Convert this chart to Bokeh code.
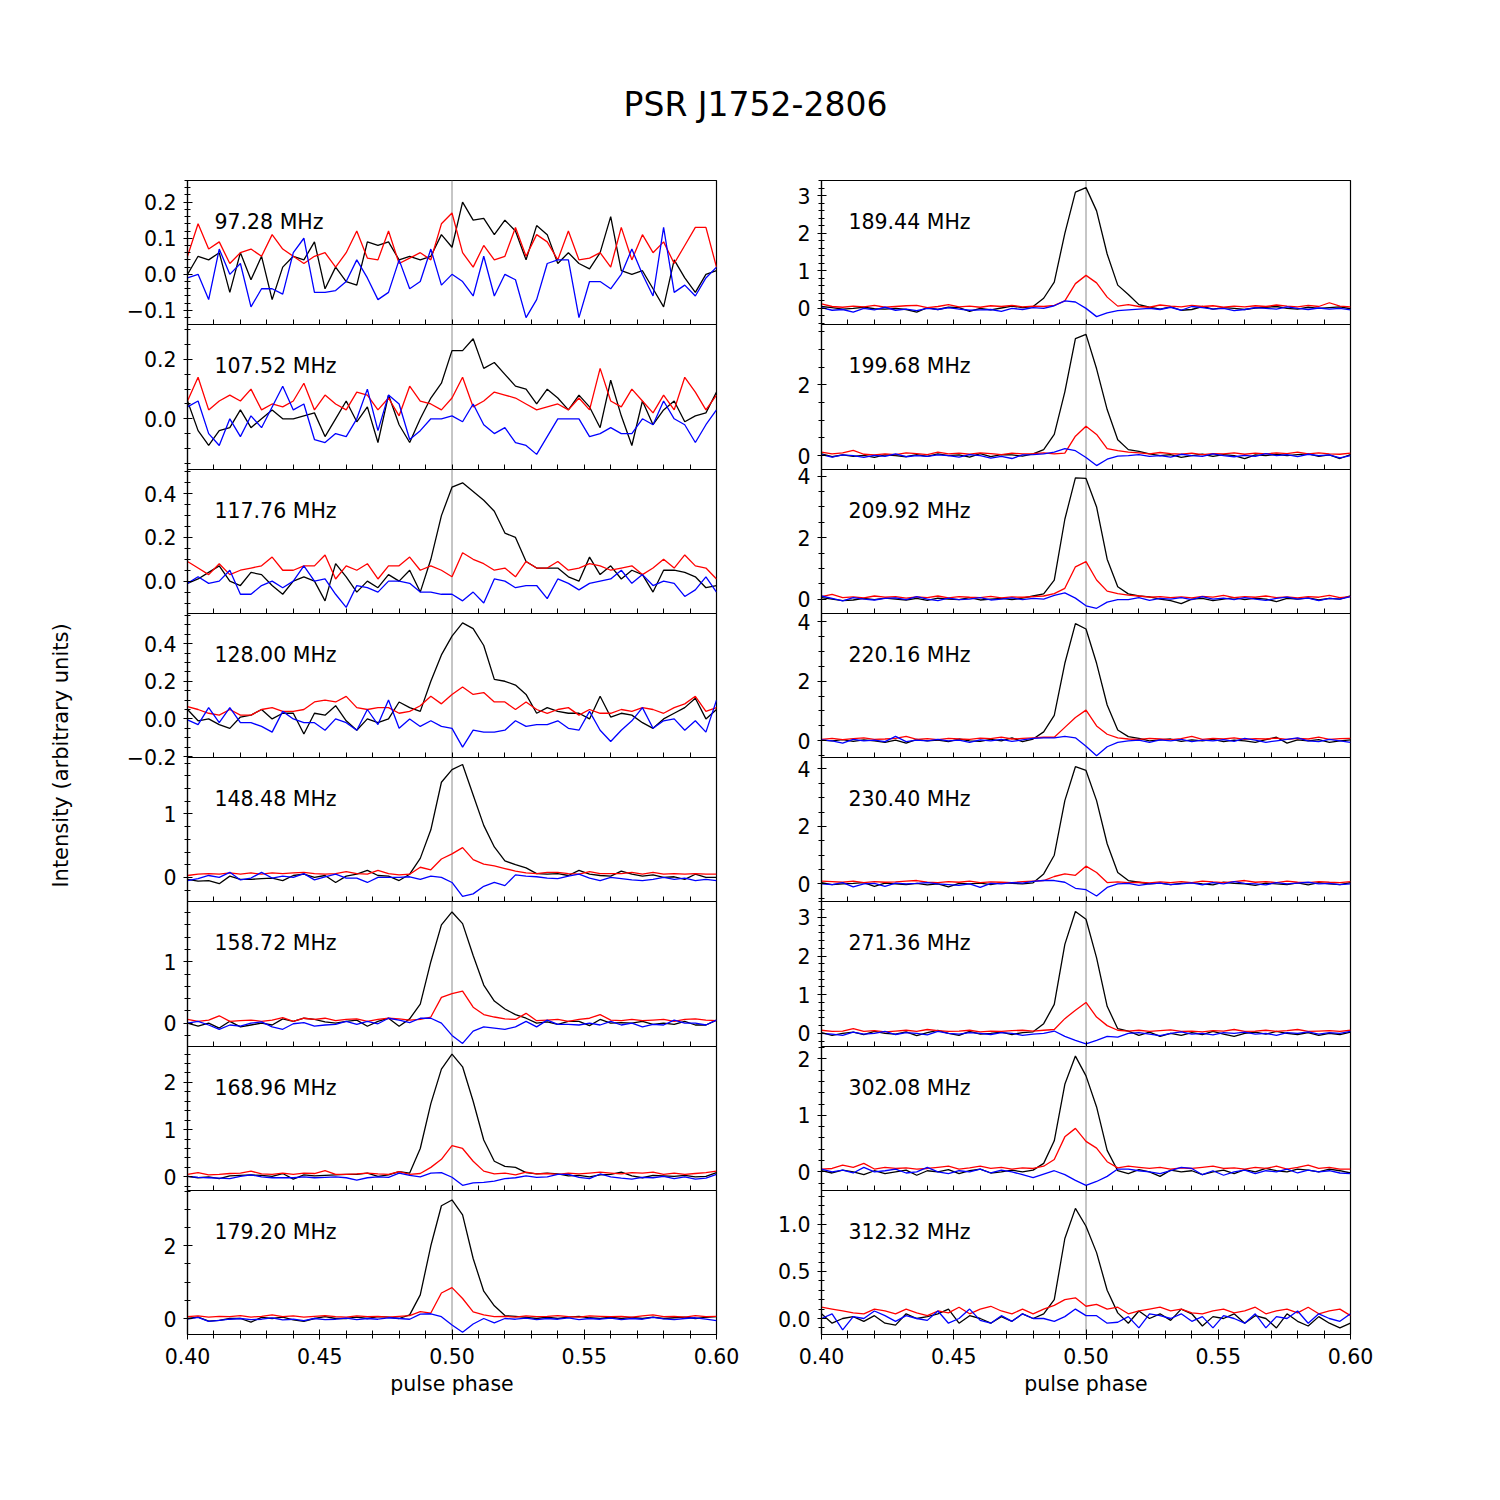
import math
import numpy as np
from bokeh.plotting import figure
from bokeh.models import (Range1d, Span, Label, SingleIntervalTicker, FixedTicker,
                          CustomJSTickFormatter, PrintfTickFormatter)
from bokeh.layouts import column, row
from bokeh.embed import file_html
from bokeh.resources import INLINE

# ---------------- data ----------------
phase = np.round(np.linspace(0.40, 0.60, 51), 3)

x_major = [0.40, 0.45, 0.50, 0.55, 0.60]
x_minor = [0.41, 0.42, 0.43, 0.44, 0.46, 0.47, 0.48, 0.49, 0.51, 0.52, 0.53, 0.54,
           0.56, 0.57, 0.58, 0.59]

freq_left = ["97.28 MHz", "107.52 MHz", "117.76 MHz", "128.00 MHz",
             "148.48 MHz", "158.72 MHz", "168.96 MHz", "179.20 MHz"]
freq_right = ["189.44 MHz", "199.68 MHz", "209.92 MHz", "220.16 MHz",
              "230.40 MHz", "271.36 MHz", "302.08 MHz", "312.32 MHz"]

# total intensity (black), linear (red), circular (blue)
i_09728 = [0.0, 0.05, 0.04, 0.06, -0.05, 0.06, -0.015, 0.05, -0.07, 0.02, 0.05, 0.04, 0.09, -0.04, 0.02, -0.02, -0.03, 0.09, 0.08, 0.09, 0.04, 0.05, 0.04, 0.05, 0.11, 0.075, 0.2, 0.15, 0.155, 0.11, 0.15, 0.12, 0.04, 0.135, 0.11, 0.03, 0.06, 0.03, 0.015, 0.06, 0.16, 0.01, 0.0, 0.01, -0.04, -0.09, 0.04, -0.01, -0.05, 0.0, 0.01]
l_09728 = [0.05, 0.14, 0.07, 0.09, 0.03, 0.06, 0.07, 0.05, 0.11, 0.07, 0.05, 0.03, 0.05, 0.06, 0.02, 0.06, 0.12, 0.045, 0.04, 0.12, 0.03, 0.045, 0.06, 0.04, 0.14, 0.17, 0.06, 0.02, 0.08, 0.04, 0.05, 0.13, 0.05, 0.11, 0.09, 0.04, 0.12, 0.04, 0.045, 0.06, 0.02, 0.13, 0.04, 0.11, 0.06, 0.09, 0.03, 0.08, 0.13, 0.13, 0.02]
v_09728 = [-0.01, 0.0, -0.07, 0.07, 0.0, 0.03, -0.09, -0.04, -0.04, -0.055, 0.06, 0.1, -0.05, -0.05, -0.045, -0.02, 0.04, -0.01, -0.07, -0.05, 0.04, -0.04, -0.02, 0.07, -0.03, 0.0, -0.02, -0.06, 0.05, -0.06, 0.0, -0.015, -0.12, -0.07, 0.03, 0.04, 0.04, -0.12, -0.02, -0.02, -0.04, 0.0, 0.07, 0.0, -0.06, 0.13, -0.05, -0.03, -0.06, -0.01, 0.02]

i_10752 = [0.06, -0.04, -0.09, -0.04, -0.03, 0.03, -0.03, 0.0, 0.03, 0.0, 0.0, 0.01, 0.02, -0.06, 0.0, 0.06, -0.01, 0.04, -0.08, 0.08, -0.02, -0.08, 0.0, 0.07, 0.12, 0.23, 0.23, 0.27, 0.17, 0.19, 0.15, 0.11, 0.10, 0.05, 0.10, 0.07, 0.03, 0.08, 0.04, -0.03, 0.13, 0.01, -0.09, 0.06, -0.02, 0.03, 0.06, -0.01, 0.01, 0.02, 0.09]
l_10752 = [0.06, 0.14, 0.03, 0.06, 0.08, 0.06, 0.10, 0.03, 0.05, 0.04, 0.06, 0.12, 0.03, 0.08, 0.05, 0.03, 0.09, 0.08, 0.03, 0.07, 0.01, 0.11, 0.06, 0.05, 0.03, 0.07, 0.14, 0.04, 0.06, 0.09, 0.08, 0.07, 0.05, 0.03, 0.04, 0.05, 0.03, 0.07, 0.03, 0.17, 0.06, 0.04, 0.10, 0.06, 0.02, 0.08, 0.03, 0.14, 0.09, 0.03, 0.08]
v_10752 = [0.04, 0.06, -0.05, -0.09, 0.0, -0.06, 0.01, -0.03, 0.04, 0.11, 0.03, 0.05, -0.07, -0.08, -0.05, -0.06, 0.0, 0.10, -0.04, 0.08, 0.05, -0.07, -0.04, 0.0, 0.0, 0.01, -0.01, 0.05, -0.02, -0.05, -0.03, -0.08, -0.09, -0.12, -0.06, 0.0, 0.0, 0.0, -0.06, -0.05, -0.03, -0.05, -0.05, 0.0, -0.02, 0.06, 0.0, -0.02, -0.08, -0.02, 0.03]

i_11776 = [-0.01, 0.01, 0.04, 0.07, 0.0, -0.02, 0.04, 0.03, -0.02, -0.06, 0.0, 0.02, 0.0, -0.09, 0.08, 0.02, -0.05, 0.0, -0.03, 0.03, 0.0, 0.05, -0.05, 0.10, 0.30, 0.43, 0.45, 0.41, 0.37, 0.32, 0.22, 0.20, 0.09, 0.06, 0.06, 0.06, 0.02, 0.0, 0.11, 0.03, 0.07, 0.01, 0.05, 0.03, -0.05, 0.05, 0.05, 0.04, 0.02, -0.03, -0.02]
l_11776 = [0.09, 0.06, 0.03, 0.08, 0.03, 0.05, 0.06, 0.07, 0.11, 0.05, 0.05, 0.07, 0.07, 0.12, 0.01, 0.07, 0.05, 0.08, 0.01, 0.07, 0.07, 0.11, 0.05, 0.07, 0.05, 0.02, 0.13, 0.10, 0.08, 0.05, 0.06, 0.02, 0.09, 0.06, 0.06, 0.09, 0.05, 0.06, 0.08, 0.07, 0.05, 0.06, 0.07, 0.03, 0.06, 0.10, 0.06, 0.12, 0.07, 0.06, 0.01]
v_11776 = [-0.01, 0.02, -0.01, 0.0, 0.05, -0.06, -0.06, -0.02, 0.0, -0.03, 0.0, 0.07, 0.0, 0.01, -0.06, -0.12, -0.02, -0.03, -0.05, 0.0, 0.0, -0.01, -0.05, -0.05, -0.06, -0.06, -0.09, -0.05, -0.10, 0.01, 0.0, -0.03, -0.02, -0.02, -0.08, 0.01, -0.01, -0.04, -0.01, 0.0, 0.01, 0.05, -0.01, 0.03, -0.02, 0.0, -0.01, -0.07, -0.04, 0.02, -0.05]

i_12800 = [0.05, -0.01, 0.0, -0.03, -0.05, 0.01, 0.02, 0.05, 0.0, 0.03, 0.03, -0.08, 0.03, 0.02, 0.07, -0.01, -0.06, 0.0, -0.02, 0.0, 0.09, 0.06, 0.04, 0.20, 0.34, 0.44, 0.51, 0.48, 0.39, 0.21, 0.20, 0.18, 0.13, 0.03, 0.06, 0.04, 0.03, 0.03, 0.0, 0.12, 0.01, 0.03, 0.02, -0.02, -0.05, 0.0, 0.03, 0.06, 0.11, 0.0, 0.05]
l_12800 = [0.065, 0.05, 0.03, 0.02, 0.05, 0.02, 0.02, 0.05, 0.06, 0.04, 0.04, 0.05, 0.09, 0.10, 0.09, 0.12, 0.06, 0.05, 0.06, 0.06, 0.03, 0.04, 0.07, 0.12, 0.08, 0.13, 0.17, 0.13, 0.14, 0.09, 0.09, 0.05, 0.09, 0.05, 0.03, 0.05, 0.06, 0.02, 0.05, 0.03, 0.03, 0.05, 0.04, 0.06, 0.05, 0.03, 0.06, 0.08, 0.12, 0.04, 0.06]
v_12800 = [-0.005, -0.03, 0.06, -0.02, 0.06, -0.02, -0.02, -0.04, -0.07, 0.04, 0.0, -0.02, -0.02, -0.06, 0.0, -0.02, -0.06, 0.05, -0.03, 0.10, -0.05, 0.0, -0.04, -0.01, -0.04, -0.05, -0.15, -0.06, -0.07, -0.07, -0.06, -0.01, -0.04, -0.03, -0.03, -0.01, -0.05, -0.06, 0.04, -0.06, -0.12, -0.06, -0.01, 0.06, -0.05, -0.01, 0.0, -0.06, -0.01, -0.07, 0.10]

i_14848 = [-0.03, -0.06, -0.05, -0.10, 0.02, -0.03, -0.03, -0.02, -0.01, -0.05, 0.03, 0.05, 0.0, 0.03, -0.08, 0.02, 0.05, 0.11, 0.03, 0.02, -0.05, 0.05, 0.30, 0.75, 1.50, 1.70, 1.78, 1.30, 0.82, 0.48, 0.26, 0.20, 0.15, 0.06, 0.05, 0.06, 0.03, 0.11, 0.05, 0.03, 0.02, 0.10, 0.05, 0.02, 0.04, 0.0, 0.01, -0.03, 0.05, 0.0, 0.0]
l_14848 = [0.03, 0.05, 0.06, 0.05, 0.07, 0.05, 0.07, 0.05, 0.07, 0.06, 0.07, 0.08, 0.06, 0.05, 0.06, 0.09, 0.06, 0.05, 0.11, 0.06, 0.04, 0.05, 0.16, 0.12, 0.29, 0.37, 0.47, 0.28, 0.21, 0.18, 0.14, 0.10, 0.07, 0.06, 0.08, 0.08, 0.06, 0.05, 0.09, 0.06, 0.06, 0.06, 0.08, 0.05, 0.08, 0.05, 0.06, 0.05, 0.06, 0.05, 0.05]
v_14848 = [-0.05, -0.02, 0.03, 0.0, 0.08, -0.04, -0.01, 0.08, -0.01, 0.02, 0.0, 0.06, -0.04, 0.01, 0.05, -0.01, -0.01, -0.08, 0.0, 0.0, 0.0, 0.01, -0.03, 0.02, 0.0, -0.08, -0.30, -0.26, -0.14, -0.08, -0.13, 0.04, 0.02, 0.01, -0.01, -0.02, 0.02, 0.05, -0.01, -0.05, 0.0, -0.02, -0.04, -0.05, -0.03, 0.0, -0.03, -0.01, -0.05, -0.03, -0.05]

i_15872 = [0.0, -0.05, 0.0, -0.08, 0.03, -0.06, -0.03, 0.0, -0.03, 0.07, 0.03, 0.08, 0.06, 0.02, 0.0, 0.03, 0.05, -0.05, 0.03, 0.08, -0.05, 0.07, 0.31, 1.00, 1.60, 1.81, 1.62, 1.10, 0.62, 0.36, 0.23, 0.14, 0.08, 0.0, 0.02, -0.02, 0.03, 0.03, -0.04, 0.06, 0.0, 0.01, 0.0, 0.03, -0.02, 0.0, -0.02, 0.03, -0.03, -0.03, 0.05]
l_15872 = [0.06, 0.03, 0.05, 0.12, 0.03, 0.04, 0.05, 0.03, 0.05, 0.09, 0.03, 0.08, 0.06, 0.08, 0.04, 0.06, 0.07, 0.03, 0.06, 0.08, 0.07, 0.05, 0.06, 0.10, 0.42, 0.48, 0.52, 0.26, 0.14, 0.10, 0.07, 0.06, 0.16, 0.04, 0.05, 0.06, 0.03, 0.06, 0.08, 0.14, 0.05, 0.04, 0.06, 0.04, 0.05, 0.06, 0.03, 0.06, 0.07, 0.05, 0.04]
v_15872 = [0.0, 0.03, -0.03, -0.10, -0.03, -0.05, 0.0, 0.02, -0.06, -0.10, -0.01, 0.01, -0.05, -0.03, -0.02, 0.03, -0.02, 0.03, -0.01, 0.08, 0.05, 0.01, 0.08, 0.08, 0.0, -0.20, -0.33, -0.13, -0.06, -0.08, -0.10, -0.06, 0.03, -0.06, 0.05, -0.02, -0.02, -0.03, 0.0, -0.03, 0.03, -0.03, 0.0, -0.06, -0.02, -0.03, 0.05, 0.0, 0.0, -0.03, 0.05]

i_16896 = [0.01, -0.02, 0.0, -0.04, 0.02, 0.03, 0.04, 0.03, 0.01, 0.07, -0.05, 0.04, 0.02, 0.03, 0.04, 0.05, 0.05, 0.08, 0.01, 0.04, 0.11, 0.08, 0.60, 1.55, 2.28, 2.60, 2.33, 1.60, 0.78, 0.33, 0.22, 0.20, 0.09, 0.06, 0.08, 0.06, 0.02, 0.03, 0.0, 0.04, 0.05, 0.10, 0.02, -0.02, 0.03, 0.02, 0.01, 0.03, 0.0, 0.01, 0.09]
l_16896 = [0.05, 0.09, 0.04, 0.05, 0.07, 0.08, 0.12, 0.06, 0.05, 0.08, 0.05, 0.08, 0.07, 0.13, 0.05, 0.05, 0.06, 0.08, 0.06, 0.05, 0.11, 0.05, 0.07, 0.20, 0.37, 0.66, 0.60, 0.33, 0.12, 0.06, 0.08, 0.04, 0.10, 0.06, 0.07, 0.05, 0.08, 0.06, 0.08, 0.10, 0.08, 0.06, 0.09, 0.08, 0.10, 0.05, 0.08, 0.05, 0.07, 0.09, 0.12]
v_16896 = [0.01, -0.01, -0.02, -0.03, -0.04, 0.01, 0.04, 0.0, -0.02, -0.02, -0.02, 0.0, -0.02, -0.01, 0.0, -0.02, -0.07, -0.02, 0.0, -0.01, 0.08, 0.03, 0.0, 0.08, 0.09, -0.01, -0.18, -0.13, -0.12, -0.09, -0.04, -0.02, 0.02, -0.01, 0.0, 0.05, 0.05, -0.01, -0.04, 0.06, 0.0, -0.03, -0.05, -0.01, -0.02, 0.01, -0.04, 0.0, -0.05, -0.03, 0.05]

i_17920 = [0.0, 0.04, -0.07, -0.05, 0.0, 0.0, -0.10, 0.03, 0.0, 0.04, -0.04, -0.08, 0.0, 0.05, 0.0, 0.0, 0.04, 0.0, 0.05, 0.04, 0.0, 0.10, 0.65, 2.00, 3.10, 3.26, 2.85, 1.65, 0.75, 0.35, 0.08, 0.06, 0.03, 0.0, 0.04, 0.0, 0.04, 0.06, 0.02, 0.0, 0.04, 0.0, 0.03, 0.0, 0.04, 0.0, 0.02, 0.04, 0.0, 0.03, 0.05]
l_17920 = [0.05, 0.07, 0.04, 0.06, 0.05, 0.08, 0.04, 0.06, 0.10, 0.05, 0.07, 0.04, 0.06, 0.08, 0.05, 0.04, 0.07, 0.05, 0.06, 0.04, 0.06, 0.08, 0.19, 0.15, 0.70, 0.85, 0.55, 0.18, 0.10, 0.05, 0.06, 0.04, 0.07, 0.05, 0.06, 0.08, 0.05, 0.04, 0.07, 0.06, 0.05, 0.06, 0.04, 0.07, 0.10, 0.05, 0.06, 0.04, 0.08, 0.05, 0.06]
v_17920 = [-0.02, 0.03, -0.08, -0.05, -0.02, 0.0, -0.03, -0.02, 0.02, -0.04, -0.02, -0.06, 0.0, -0.03, -0.02, 0.01, -0.03, 0.0, -0.02, 0.02, 0.0, -0.02, 0.12, 0.13, 0.05, -0.18, -0.38, -0.15, 0.0, -0.12, 0.0, -0.02, 0.01, -0.03, 0.0, -0.02, 0.02, -0.03, 0.0, -0.02, 0.01, -0.03, 0.0, -0.02, 0.03, -0.01, -0.03, 0.0, 0.02, -0.02, -0.06]

i_18944 = [0.05, 0.02, -0.02, 0.0, 0.03, -0.01, -0.02, 0.0, -0.03, -0.10, 0.02, -0.03, 0.03, 0.02, -0.08, 0.0, -0.04, 0.01, 0.06, 0.02, 0.05, 0.27, 0.70, 2.00, 3.10, 3.22, 2.60, 1.45, 0.62, 0.37, 0.10, 0.03, -0.02, 0.04, -0.05, -0.03, 0.05, -0.02, 0.02, 0.0, -0.03, 0.01, 0.03, 0.05, 0.0, -0.02, 0.03, 0.0, 0.02, 0.04, -0.01]
l_18944 = [0.12, 0.05, 0.03, 0.06, 0.04, 0.08, 0.03, 0.05, 0.07, 0.08, 0.02, 0.05, 0.10, 0.04, 0.06, 0.03, 0.07, 0.05, 0.08, 0.04, 0.06, 0.05, 0.08, 0.20, 0.66, 0.88, 0.68, 0.30, 0.06, 0.10, 0.05, 0.03, 0.09, 0.06, 0.04, 0.08, 0.05, 0.07, 0.03, 0.06, 0.04, 0.07, 0.05, 0.09, 0.06, 0.04, 0.08, 0.05, 0.15, 0.06, 0.04]
v_18944 = [0.02, -0.05, -0.03, -0.10, 0.0, -0.04, 0.03, -0.05, -0.02, -0.06, 0.0, -0.03, 0.02, -0.02, -0.05, -0.04, -0.03, -0.08, 0.0, -0.03, 0.02, 0.0, 0.07, 0.20, 0.17, 0.0, -0.22, -0.12, -0.06, -0.04, -0.02, 0.0, -0.03, 0.03, -0.05, 0.05, 0.02, -0.02, 0.0, -0.06, -0.03, 0.02, 0.0, -0.02, 0.04, 0.0, -0.03, 0.01, -0.02, 0.0, -0.04]

i_19968 = [0.05, -0.03, 0.02, -0.02, 0.01, -0.05, 0.02, 0.0, -0.03, 0.03, -0.02, 0.05, 0.0, 0.02, -0.04, 0.06, -0.03, 0.03, 0.02, -0.01, 0.05, 0.17, 0.60, 1.80, 3.30, 3.42, 2.45, 1.30, 0.45, 0.17, 0.12, 0.05, 0.0, 0.03, -0.05, 0.0, 0.04, -0.02, 0.03, 0.0, -0.08, 0.02, 0.0, 0.04, 0.0, 0.03, 0.05, -0.02, 0.02, -0.08, 0.03]
l_19968 = [0.10, 0.05, 0.08, 0.15, 0.04, 0.02, 0.05, 0.03, 0.08, 0.06, 0.03, 0.10, 0.05, 0.07, 0.04, 0.08, 0.06, 0.03, 0.07, 0.05, 0.06, 0.08, 0.05, 0.07, 0.55, 0.83, 0.60, 0.20, 0.14, 0.10, 0.08, 0.05, 0.09, 0.06, 0.04, 0.07, 0.03, 0.06, 0.05, 0.08, 0.04, 0.07, 0.05, 0.08, 0.06, 0.10, 0.05, 0.08, 0.05, 0.04, 0.07]
v_19968 = [0.03, -0.04, 0.02, 0.0, -0.05, 0.01, -0.02, 0.05, -0.03, 0.0, -0.02, 0.02, 0.0, -0.04, 0.03, 0.0, -0.07, -0.02, -0.08, 0.02, 0.03, 0.05, 0.10, 0.20, 0.14, -0.05, -0.28, -0.10, -0.01, 0.0, 0.03, -0.02, 0.0, -0.04, 0.04, 0.0, -0.02, 0.05, 0.0, -0.03, 0.01, -0.02, 0.06, 0.0, 0.03, -0.03, 0.04, 0.0, 0.02, -0.06, 0.0]

i_20992 = [0.05, 0.0, -0.05, -0.03, 0.02, -0.02, 0.03, 0.0, -0.03, 0.02, -0.04, 0.03, 0.0, -0.02, 0.05, -0.03, 0.0, 0.02, -0.02, 0.03, 0.10, 0.17, 0.62, 2.60, 3.95, 3.93, 3.00, 1.30, 0.40, 0.17, 0.10, 0.07, 0.0, -0.05, -0.15, 0.0, 0.02, -0.05, 0.0, 0.05, -0.02, 0.03, 0.0, -0.08, 0.02, 0.0, 0.04, -0.03, 0.02, 0.0, 0.10]
l_20992 = [0.08, 0.15, 0.05, 0.07, 0.04, 0.10, 0.06, 0.08, 0.03, 0.07, 0.05, 0.10, 0.04, 0.08, 0.06, 0.05, 0.09, 0.04, 0.07, 0.06, 0.08, 0.10, 0.18, 0.35, 1.05, 1.22, 0.62, 0.26, 0.18, 0.13, 0.10, 0.06, 0.08, 0.05, 0.07, 0.04, 0.09, 0.06, 0.12, 0.05, 0.08, 0.06, 0.10, 0.05, 0.07, 0.04, 0.08, 0.06, 0.12, 0.05, 0.08]
v_20992 = [0.10, 0.02, -0.06, 0.05, 0.0, -0.03, 0.02, 0.04, -0.02, 0.08, 0.0, -0.05, 0.03, -0.02, 0.0, 0.05, -0.03, 0.0, 0.04, -0.02, 0.02, 0.0, 0.12, 0.20, 0.03, -0.22, -0.30, -0.10, -0.02, -0.02, 0.05, -0.04, 0.02, 0.0, 0.05, -0.02, 0.08, 0.0, 0.03, -0.02, 0.05, 0.0, -0.04, 0.02, 0.06, 0.0, 0.03, -0.05, 0.02, 0.0, 0.08]

i_22016 = [0.02, 0.0, 0.04, -0.02, 0.03, 0.0, -0.05, 0.02, -0.08, 0.05, 0.0, 0.02, -0.03, 0.06, 0.0, -0.02, 0.05, 0.0, 0.10, -0.03, 0.06, 0.30, 0.85, 2.60, 3.93, 3.75, 2.60, 1.20, 0.36, 0.14, 0.08, 0.0, 0.03, 0.06, -0.02, 0.03, 0.0, 0.05, -0.03, 0.02, 0.0, -0.05, 0.04, 0.12, -0.08, 0.03, 0.0, 0.04, -0.05, 0.0, 0.03]
l_22016 = [0.05, 0.08, 0.04, 0.07, 0.10, 0.05, 0.06, 0.08, 0.15, 0.05, 0.07, 0.04, 0.08, 0.06, 0.05, 0.09, 0.07, 0.12, 0.06, 0.08, 0.10, 0.12, 0.12, 0.45, 0.78, 1.03, 0.50, 0.22, 0.10, 0.06, 0.05, 0.08, 0.06, 0.04, 0.07, 0.15, 0.05, 0.08, 0.06, 0.10, 0.05, 0.07, 0.06, 0.09, 0.05, 0.08, 0.06, 0.12, 0.05, 0.07, 0.08]
v_22016 = [0.03, 0.0, -0.08, 0.05, 0.0, 0.02, -0.03, 0.15, -0.03, 0.02, 0.0, 0.05, 0.0, 0.02, -0.05, 0.03, 0.0, 0.05, -0.02, 0.03, 0.08, 0.10, 0.10, 0.15, 0.10, -0.18, -0.50, -0.20, -0.05, 0.0, 0.02, -0.05, 0.03, 0.0, 0.05, -0.03, 0.02, 0.0, 0.04, -0.02, 0.08, 0.02, -0.05, 0.0, 0.05, 0.10, 0.0, -0.03, 0.05, 0.0, -0.05]

i_23040 = [0.05, -0.02, 0.0, 0.02, 0.05, -0.08, 0.03, 0.0, -0.02, 0.02, -0.03, 0.0, -0.10, 0.02, 0.0, 0.03, -0.02, 0.05, 0.02, 0.0, 0.04, 0.35, 1.00, 2.90, 4.08, 3.95, 2.90, 1.40, 0.40, 0.12, 0.06, 0.0, 0.03, -0.02, 0.02, 0.05, 0.0, -0.03, 0.06, 0.02, 0.0, -0.05, 0.03, 0.0, -0.02, 0.04, -0.03, 0.05, 0.0, -0.02, 0.05]
l_23040 = [0.10, 0.08, 0.06, 0.10, 0.05, 0.08, 0.06, 0.07, 0.10, 0.12, 0.06, 0.05, 0.08, 0.06, 0.10, 0.05, 0.07, 0.06, 0.05, 0.08, 0.10, 0.12, 0.26, 0.35, 0.30, 0.62, 0.40, 0.05, 0.07, 0.05, 0.06, 0.04, 0.07, 0.05, 0.08, 0.05, 0.10, 0.07, 0.05, 0.08, 0.12, 0.06, 0.08, 0.05, 0.10, 0.06, 0.05, 0.08, 0.06, 0.05, 0.08]
v_23040 = [0.0, -0.02, 0.05, -0.10, 0.0, 0.02, -0.08, 0.03, 0.0, 0.02, 0.05, 0.0, -0.02, -0.05, 0.0, -0.12, 0.02, 0.0, 0.05, 0.03, 0.09, 0.12, 0.12, 0.06, -0.15, -0.20, -0.42, -0.12, 0.0, 0.02, -0.05, 0.0, 0.03, -0.02, 0.0, 0.04, -0.03, 0.05, 0.0, 0.08, 0.02, 0.0, -0.03, 0.05, 0.0, 0.03, 0.06, 0.0, 0.02, -0.02, 0.0]

i_27136 = [0.02, -0.05, 0.0, 0.03, -0.03, 0.05, 0.0, -0.02, 0.04, -0.06, 0.02, 0.08, 0.0, -0.05, 0.05, -0.02, 0.0, 0.03, -0.03, 0.02, 0.04, 0.25, 0.75, 2.30, 3.15, 2.95, 1.95, 0.70, 0.12, 0.06, -0.05, 0.03, -0.08, 0.0, -0.05, 0.02, -0.03, 0.05, -0.02, -0.08, 0.0, 0.03, -0.02, 0.05, 0.0, -0.03, 0.02, -0.05, 0.0, -0.03, 0.03]
l_27136 = [0.08, 0.05, 0.06, 0.12, 0.05, 0.07, 0.04, 0.06, 0.08, 0.05, 0.10, 0.07, 0.05, 0.06, 0.08, 0.04, 0.06, 0.05, 0.07, 0.08, 0.06, 0.08, 0.10, 0.38, 0.60, 0.80, 0.42, 0.20, 0.08, 0.06, 0.08, 0.05, 0.07, 0.09, 0.05, 0.06, 0.04, 0.07, 0.06, 0.10, 0.05, 0.06, 0.08, 0.05, 0.07, 0.10, 0.05, 0.06, 0.07, 0.05, 0.08]
v_27136 = [0.0, -0.02, -0.05, 0.03, -0.02, 0.0, 0.05, -0.03, 0.02, 0.0, -0.04, 0.05, 0.0, -0.02, 0.02, 0.0, -0.03, 0.02, 0.0, -0.05, -0.02, 0.0, 0.06, -0.08, -0.18, -0.27, -0.18, -0.08, -0.10, 0.0, 0.02, -0.02, -0.06, 0.0, 0.04, -0.02, 0.0, -0.04, 0.02, 0.0, 0.03, -0.02, 0.0, -0.05, 0.02, 0.0, 0.04, -0.02, 0.02, 0.0, 0.05]

i_30208 = [0.02, -0.02, 0.03, 0.0, -0.05, 0.02, -0.03, 0.0, 0.03, -0.06, 0.02, 0.0, 0.04, -0.03, 0.02, 0.05, -0.02, 0.0, 0.03, 0.0, 0.03, 0.15, 0.55, 1.55, 2.05, 1.70, 1.15, 0.38, 0.02, -0.03, 0.04, 0.0, -0.08, 0.03, 0.0, 0.02, -0.05, 0.0, 0.03, -0.03, 0.04, 0.0, 0.06, 0.02, 0.0, 0.05, 0.03, 0.0, 0.05, 0.02, -0.02]
l_30208 = [0.05, 0.06, 0.12, 0.08, 0.15, 0.05, 0.08, 0.06, 0.07, 0.05, 0.06, 0.08, 0.10, 0.05, 0.07, 0.10, 0.06, 0.08, 0.05, 0.07, 0.06, 0.10, 0.22, 0.62, 0.77, 0.54, 0.42, 0.18, 0.07, 0.10, 0.08, 0.06, 0.08, 0.05, 0.07, 0.06, 0.08, 0.10, 0.06, 0.07, 0.05, 0.08, 0.06, 0.10, 0.05, 0.08, 0.12, 0.06, 0.08, 0.05, 0.05]
v_30208 = [0.05, 0.0, 0.03, -0.02, 0.08, 0.0, 0.02, 0.05, -0.02, 0.0, 0.08, 0.0, -0.03, 0.02, 0.0, 0.05, -0.02, 0.03, 0.0, -0.05, -0.10, -0.04, 0.02, -0.05, -0.15, -0.24, -0.17, -0.08, 0.05, 0.05, 0.02, 0.0, -0.03, 0.02, 0.08, 0.06, -0.05, 0.02, -0.06, 0.0, 0.03, -0.03, 0.02, 0.0, 0.05, -0.02, 0.03, 0.0, 0.02, -0.02, -0.03]

i_31232 = [0.05, -0.05, 0.0, 0.02, -0.03, 0.03, -0.05, -0.07, 0.05, 0.0, 0.02, 0.05, 0.10, -0.05, 0.03, 0.0, -0.05, 0.02, -0.03, 0.05, 0.0, 0.05, 0.20, 0.85, 1.17, 0.98, 0.70, 0.30, 0.06, -0.05, 0.08, 0.0, 0.05, -0.02, 0.10, 0.05, -0.08, 0.02, 0.0, 0.05, -0.05, 0.03, 0.0, -0.10, 0.05, -0.03, -0.08, 0.02, -0.05, -0.10, -0.05]
l_31232 = [0.12, 0.10, 0.08, 0.06, 0.05, 0.10, 0.08, 0.05, 0.10, 0.06, 0.03, 0.08, 0.06, 0.12, 0.05, 0.10, 0.13, 0.08, 0.05, 0.10, 0.05, 0.10, 0.14, 0.20, 0.22, 0.13, 0.15, 0.10, 0.12, 0.05, 0.08, 0.10, 0.12, 0.08, 0.10, 0.06, 0.05, 0.08, 0.10, 0.06, 0.08, 0.12, 0.05, 0.08, 0.10, 0.06, 0.12, 0.05, 0.08, 0.10, 0.03]
v_31232 = [0.0, 0.05, -0.12, 0.02, 0.0, 0.08, 0.03, -0.03, 0.03, 0.0, -0.02, 0.08, -0.05, 0.0, 0.10, -0.02, -0.05, 0.03, -0.03, 0.05, 0.0, 0.0, -0.03, 0.02, 0.10, 0.03, 0.03, -0.05, -0.04, 0.02, -0.10, 0.05, 0.03, 0.0, 0.05, -0.03, 0.02, -0.10, 0.03, 0.0, -0.05, 0.05, -0.10, 0.02, 0.0, 0.08, -0.05, 0.05, 0.0, -0.03, 0.05]

left_series = [(i_09728, l_09728, v_09728), (i_10752, l_10752, v_10752),
               (i_11776, l_11776, v_11776), (i_12800, l_12800, v_12800),
               (i_14848, l_14848, v_14848), (i_15872, l_15872, v_15872),
               (i_16896, l_16896, v_16896), (i_17920, l_17920, v_17920)]
right_series = [(i_18944, l_18944, v_18944), (i_19968, l_19968, v_19968),
                (i_20992, l_20992, v_20992), (i_22016, l_22016, v_22016),
                (i_23040, l_23040, v_23040), (i_27136, l_27136, v_27136),
                (i_30208, l_30208, v_30208), (i_31232, l_31232, v_31232)]

# ---------------- axes settings (ranges / ticks) ----------------
left_yrange = [(-0.139, 0.260), (-0.171, 0.318), (-0.148, 0.511), (-0.205, 0.560),
               (-0.38, 1.89), (-0.38, 1.98), (-0.29, 2.76), (-0.44, 3.52)]
right_yrange = [(-0.43, 3.41), (-0.39, 3.70), (-0.47, 4.22), (-0.56, 4.27),
                (-0.61, 4.40), (-0.34, 3.41), (-0.33, 2.22), (-0.17, 1.36)]
left_tick = [(0.1, 5, 1), (0.2, 4, 1), (0.2, 4, 1), (0.2, 4, 1),
             (1, 5, 0), (1, 5, 0), (1, 5, 0), (2, 4, 0)]
right_tick = [(1, 5, 0), (2, 4, 0), (2, 4, 0), (2, 4, 0),
              (2, 4, 0), (1, 5, 0), (1, 5, 0), (0.5, 5, 1)]
frame_heights = [144, 145, 144, 144, 144, 145, 144, 144]

FONT = "DejaVu Sans"
FS = "20.5px"
PAD = 12   # transparent border above/below each panel, overlapped with neighbours


def make_panel(k, label, series, yr, tick, right_border):
    I, L, V = series
    fh = frame_heights[k]
    is_top = (k == 0)
    is_bottom = (k == 7)
    p = figure(frame_width=529, frame_height=fh,
               x_range=Range1d(0.4, 0.6), y_range=Range1d(*yr),
               output_backend="svg", toolbar_location=None,
               min_border_left=80, min_border_right=right_border,
               min_border_top=(0 if is_top else PAD),
               min_border_bottom=(75 if is_bottom else PAD),
               margin=((0 if is_top else -2 * PAD), 0, 0, 0),
               background_fill_color="white", border_fill_color=None)
    p.xgrid.visible = False
    p.ygrid.visible = False
    p.outline_line_color = "black"
    p.outline_line_width = 1.2
    p.outline_line_alpha = 1.0

    interval, nminor, dec = tick
    ya = p.yaxis[0]
    ya.ticker = SingleIntervalTicker(interval=interval, num_minor_ticks=nminor)
    ya.formatter = CustomJSTickFormatter(code=(
        "const v = Math.abs(tick) < 1e-9 ? 0 : tick;"
        "return (v < 0 ? '\\u2212' : '') + Math.abs(v).toFixed(%d);" % dec))
    ya.major_tick_in = 5
    ya.major_tick_out = 4
    ya.minor_tick_in = 3
    ya.minor_tick_out = 3
    ya.major_tick_line_color = "black"
    ya.minor_tick_line_color = "black"
    ya.axis_line_color = "black"
    ya.axis_line_width = 1.2
    ya.major_label_text_font = FONT
    ya.major_label_text_font_size = FS
    ya.major_label_text_color = "black"
    ya.major_label_standoff = 7

    xa = p.xaxis[0]
    xa.axis_line_color = "black"
    xa.axis_line_width = 1.2
    xa.major_tick_line_color = "black"
    xa.minor_tick_line_color = "black"
    if is_bottom:
        xa.ticker = FixedTicker(ticks=x_major, minor_ticks=x_minor)
        xa.formatter = PrintfTickFormatter(format="%.2f")
        xa.major_tick_in = 5
        xa.major_tick_out = 5
        xa.minor_tick_in = 4
        xa.minor_tick_out = 4
        xa.major_label_text_font = FONT
        xa.major_label_text_font_size = FS
        xa.major_label_text_color = "black"
        xa.major_label_standoff = 8
        xa.axis_label = "pulse phase"
        xa.axis_label_text_font = FONT
        xa.axis_label_text_font_size = FS
        xa.axis_label_text_font_style = "normal"
        xa.axis_label_text_color = "black"
        xa.axis_label_standoff = 5
    else:
        # only inward ticks, no labels (shared x axis)
        xa.ticker = FixedTicker(ticks=[], minor_ticks=x_major + x_minor)
        xa.minor_tick_in = 5
        xa.minor_tick_out = 0
        xa.major_tick_in = 0
        xa.major_tick_out = 0
        xa.major_label_standoff = 0

    p.add_layout(Span(location=0.5, dimension="height", line_color="#8c8c8c",
                      line_width=1.0, level="underlay"))
    p.line(phase, I, line_color="black", line_width=1.3)
    p.line(phase, L, line_color="#ff0000", line_width=1.3)
    p.line(phase, V, line_color="#0000ff", line_width=1.3)

    ylab = yr[1] - (41.0 / fh) * (yr[1] - yr[0])
    p.add_layout(Label(x=0.4102, y=ylab, text=label, text_font=FONT,
                       text_font_size=FS, text_color="black",
                       text_align="left", text_baseline="middle"))
    return p


left_figs = [make_panel(k, freq_left[k], left_series[k], left_yrange[k], left_tick[k], 25)
             for k in range(8)]
right_figs = [make_panel(k, freq_right[k], right_series[k], right_yrange[k], right_tick[k], 150)
              for k in range(8)]

# title
tfig = figure(width=1500, height=180, x_range=Range1d(0, 1500), y_range=Range1d(0, 180),
              output_backend="svg", toolbar_location=None, min_border=0)
tfig.axis.visible = False
tfig.grid.visible = False
tfig.outline_line_color = None
tfig.add_layout(Label(x=755, y=76, text="PSR J1752-2806", text_font=FONT,
                      text_font_size="33px", text_color="black",
                      text_align="center", text_baseline="middle"))

# common y label
yfig = figure(width=107, height=1154, x_range=Range1d(0, 107), y_range=Range1d(0, 1154),
              output_backend="svg", toolbar_location=None, min_border=0)
yfig.axis.visible = False
yfig.grid.visible = False
yfig.outline_line_color = None
yfig.add_layout(Label(x=60, y=579, text="Intensity (arbitrary units)", text_font=FONT,
                      text_font_size="21px", text_color="black", angle=math.pi / 2,
                      text_align="center", text_baseline="middle"))

layout = column(tfig, row(yfig, column(*left_figs), column(*right_figs)))

open("out.html", "w").write(file_html(layout, INLINE))
